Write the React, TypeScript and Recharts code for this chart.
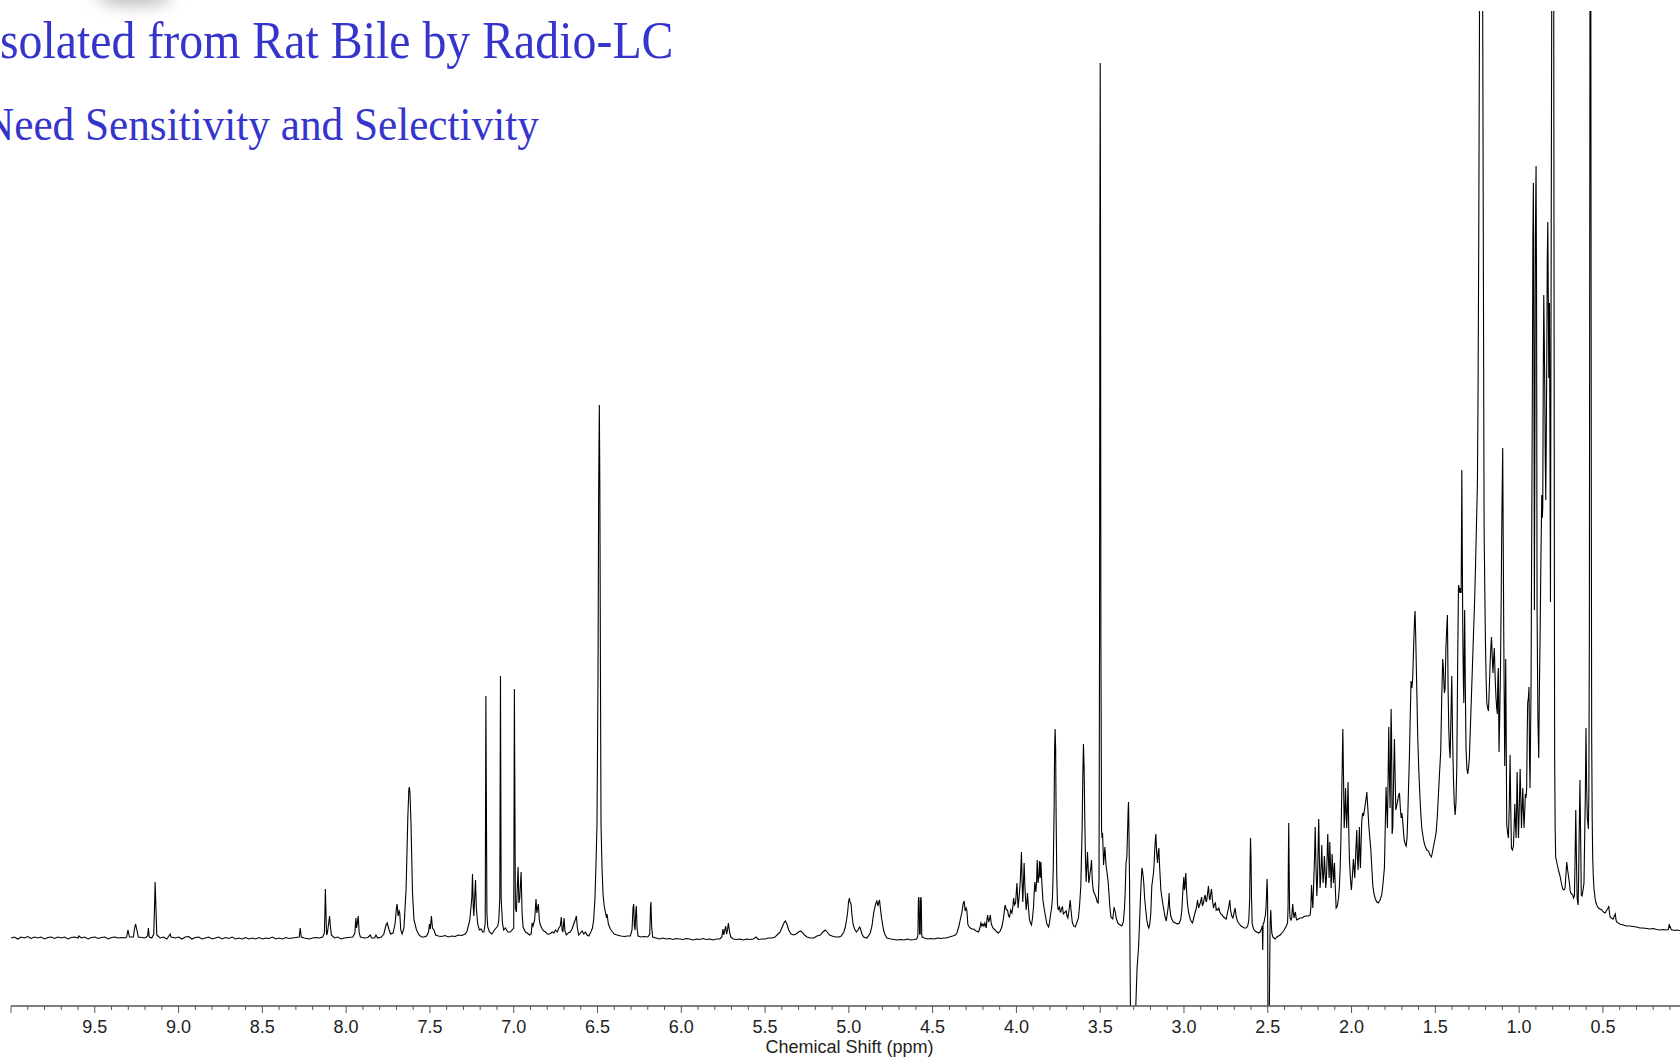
import { LineChart, Line, XAxis, YAxis } from 'recharts';

// 1H NMR trace, [chemical shift (ppm), intensity above baseline]
const lowFieldBaseline: [number, number][] = [
  [10.0, 0], [9.98, 1], [9.96, -1], [9.94, 1], [9.92, 0], [9.9, 1.5], [9.88, -0.5], [9.86, 1],
  [9.84, 0], [9.82, 1], [9.8, -1], [9.78, 0.5], [9.76, 1], [9.74, -0.5], [9.72, 1], [9.7, 0],
  [9.68, 1], [9.66, -1], [9.64, 0.5], [9.62, 1], [9.6, 0], [9.595, 2], [9.58, 0], [9.56, 1],
  [9.54, -1], [9.52, 0.5], [9.5, 1], [9.48, -0.5], [9.46, 0.5], [9.44, 1], [9.42, -1], [9.4, 0.5],
  [9.38, 1], [9.36, 0], [9.34, 0.5], [9.32, 0],
];

const aromaticRegion: [number, number][] = [
  [9.31, 1], [9.302, 8], [9.293, 1], [9.27, 1], [9.262, 10], [9.257, 14], [9.25, 9], [9.24, 1],
  [9.2, 0], [9.185, 2], [9.18, 10], [9.175, 1], [9.16, 0], [9.148, 4], [9.142, 40], [9.14, 56],
  [9.137, 40], [9.13, 3], [9.11, 0], [9.09, 1], [9.07, -1], [9.05, 4], [9.045, 1], [9.02, 0],
  [9.0, 1], [8.98, -1], [8.96, 1], [8.94, 1.5], [8.92, -1], [8.9, 0.5], [8.88, 1], [8.86, -1],
  [8.84, 0], [8.82, 1], [8.8, -1], [8.78, 0], [8.76, 1], [8.74, -1], [8.72, 0.5], [8.7, -0.5],
  [8.68, 1], [8.66, -1], [8.64, 0], [8.62, -1], [8.6, 0.5], [8.58, -1], [8.56, 0], [8.54, -1],
  [8.52, 0.5], [8.5, -1], [8.48, 0], [8.46, -0.5], [8.44, 1], [8.42, -1], [8.4, 0], [8.38, -1],
  [8.36, 0.5], [8.34, -0.5], [8.32, 0], [8.3, 0.5], [8.28, 1], [8.274, 10], [8.268, 1], [8.25, 0],
  [8.22, -1], [8.2, 0], [8.18, 0.5], [8.16, 0], [8.14, 1], [8.13, 5], [8.126, 30], [8.124, 49],
  [8.121, 30], [8.117, 3], [8.112, 5], [8.104, 15], [8.099, 22], [8.094, 12], [8.088, 3], [8.07, 0],
  [8.05, 1], [8.03, -1], [8.01, 0], [7.99, 0.5], [7.96, 1], [7.948, 5], [7.942, 20], [7.938, 10],
  [7.934, 14], [7.928, 22], [7.922, 5], [7.915, 1], [7.89, 0], [7.87, 0.5], [7.856, 3], [7.848, 0],
  [7.83, 0], [7.822, 3], [7.812, 0], [7.79, 1], [7.775, 4], [7.762, 13], [7.755, 15], [7.745, 9],
  [7.735, 4], [7.72, 5], [7.708, 14], [7.7, 30], [7.696, 34], [7.69, 22], [7.684, 27], [7.68, 25],
  [7.674, 8], [7.666, 4], [7.655, 10], [7.642, 50], [7.632, 120], [7.626, 148], [7.623, 151],
  [7.619, 145], [7.613, 115], [7.604, 45], [7.595, 18], [7.58, 8], [7.565, 3], [7.55, 1],
  [7.535, 1], [7.52, 2], [7.508, 6], [7.503, 14], [7.498, 9], [7.491, 22], [7.485, 10], [7.476, 8],
  [7.466, 3], [7.45, 2], [7.43, 1.5], [7.41, 2.5], [7.39, 1], [7.37, 2], [7.35, 1.5], [7.33, 3],
  [7.31, 2.5], [7.29, 4], [7.278, 7], [7.262, 18], [7.25, 40], [7.246, 64], [7.241, 30],
  [7.238, 22], [7.233, 40], [7.228, 58], [7.223, 30], [7.215, 14], [7.205, 8], [7.195, 9],
  [7.185, 6], [7.178, 6], [7.17, 15], [7.166, 242], [7.16, 25], [7.155, 11], [7.145, 6],
  [7.13, 4], [7.115, 8], [7.105, 10], [7.095, 12], [7.089, 18], [7.083, 40], [7.079, 262],
  [7.075, 40], [7.067, 15], [7.06, 8], [7.05, 10], [7.035, 6], [7.02, 6], [7.0, 10], [6.996, 249],
  [6.99, 30], [6.984, 26], [6.974, 71], [6.969, 35], [6.964, 40], [6.956, 66], [6.95, 25],
  [6.944, 11], [6.93, 6], [6.92, 5], [6.905, 3], [6.896, 4], [6.89, 15], [6.885, 12], [6.875, 18],
  [6.867, 39], [6.862, 25], [6.853, 34], [6.847, 18], [6.841, 13], [6.83, 9], [6.82, 7], [6.81, 6],
  [6.8, 4], [6.785, 4], [6.77, 6], [6.76, 5], [6.751, 8], [6.74, 6], [6.731, 10], [6.722, 12],
  [6.716, 21], [6.711, 8], [6.706, 6], [6.7, 20], [6.694, 7], [6.686, 3], [6.675, 5], [6.662, 6],
  [6.652, 9], [6.642, 14], [6.633, 18], [6.626, 22], [6.62, 10], [6.612, 3], [6.602, 5],
  [6.592, 7], [6.582, 4], [6.572, 6], [6.562, 3], [6.552, 2], [6.54, 6], [6.53, 10], [6.523, 18],
  [6.515, 40], [6.508, 80], [6.503, 114], [6.497, 260], [6.493, 450], [6.489, 533], [6.486, 450],
  [6.482, 250], [6.479, 114], [6.473, 70], [6.467, 44], [6.46, 32], [6.453, 26], [6.446, 20],
  [6.443, 24], [6.435, 14], [6.423, 9], [6.41, 6], [6.4, 4], [6.383, 3], [6.36, 2], [6.34, 1.5],
  [6.32, 2], [6.304, 2], [6.294, 8], [6.288, 30], [6.284, 34], [6.28, 12], [6.276, 8], [6.271, 28],
  [6.268, 32], [6.264, 10], [6.258, 2], [6.24, 1], [6.22, 1.5], [6.2, 1], [6.188, 4], [6.184, 30],
  [6.181, 36], [6.177, 12], [6.171, 1], [6.15, 0],
];

const olefinicRegion: [number, number][] = [
  [6.13, -1], [6.11, 0], [6.09, -1], [6.07, -0.5], [6.05, -1.5], [6.03, -0.5], [6.01, -1],
  [5.99, -1.5], [5.97, -0.5], [5.95, -1], [5.93, -2], [5.91, -1], [5.89, -1.5], [5.87, -0.5],
  [5.85, -1.5], [5.83, -1], [5.81, -2], [5.79, -1], [5.77, -1], [5.758, 1], [5.751, 9], [5.746, 3],
  [5.743, 6], [5.735, 12], [5.73, 4], [5.725, 7], [5.719, 15], [5.712, 6], [5.705, 1], [5.69, -1],
  [5.67, -1.5], [5.65, -1], [5.63, -2], [5.61, -1], [5.59, -1.5], [5.57, -1], [5.554, 1],
  [5.54, -1.5], [5.52, -1], [5.5, -1], [5.48, 0], [5.46, 0], [5.44, 1], [5.429, 3], [5.41, 6],
  [5.395, 12], [5.385, 16], [5.379, 17], [5.37, 14], [5.359, 8], [5.345, 4], [5.33, 3], [5.315, 4],
  [5.3, 6], [5.29, 7], [5.28, 6], [5.265, 3], [5.25, 1], [5.23, 0], [5.21, 0], [5.19, 2], [5.17, 3],
  [5.155, 6], [5.141, 8], [5.13, 6], [5.115, 3], [5.1, 2], [5.08, 1], [5.06, 1], [5.045, 2],
  [5.03, 6], [5.021, 11], [5.012, 20], [5.007, 26], [5.002, 36], [4.997, 40], [4.993, 36],
  [4.987, 34], [4.982, 24], [4.975, 14], [4.966, 9], [4.955, 6], [4.945, 8], [4.936, 11],
  [4.932, 10], [4.922, 4], [4.912, 1], [4.892, 0], [4.872, 5], [4.862, 12], [4.852, 25],
  [4.84, 34], [4.833, 37], [4.826, 32], [4.821, 36], [4.817, 38], [4.812, 30], [4.805, 20],
  [4.793, 8], [4.783, 3], [4.773, 0], [4.75, -1], [4.73, -1.5], [4.71, -2], [4.69, -1.5],
  [4.67, -2], [4.65, -1], [4.63, -2], [4.61, -1.5], [4.595, -1], [4.588, 2], [4.585, 38],
  [4.583, 41], [4.581, 38], [4.578, 4], [4.574, 4], [4.572, 38], [4.57, 41], [4.568, 38],
  [4.565, 3], [4.562, 1], [4.55, 0], [4.53, -1], [4.51, -0.5], [4.49, -1], [4.47, 0],
  [4.45, -0.5], [4.435, 0], [4.42, 0], [4.4, 1], [4.38, 2], [4.365, 3],
];

const midRegion: [number, number][] = [
  [4.355, 5], [4.343, 12], [4.333, 20], [4.325, 26], [4.318, 34], [4.312, 37], [4.306, 27],
  [4.3, 30], [4.296, 28], [4.29, 14], [4.286, 12], [4.275, 10], [4.265, 9], [4.256, 9], [4.24, 7],
  [4.226, 6], [4.218, 10], [4.212, 15], [4.206, 12], [4.2, 14], [4.194, 12], [4.188, 15],
  [4.18, 10], [4.176, 18], [4.172, 23], [4.166, 16], [4.162, 18], [4.156, 23], [4.15, 14],
  [4.14, 10], [4.127, 8], [4.117, 6], [4.107, 5], [4.097, 7], [4.087, 11], [4.077, 20], [4.07, 30],
  [4.067, 33], [4.06, 28], [4.053, 28], [4.047, 22], [4.041, 21], [4.034, 28], [4.027, 25],
  [4.022, 30], [4.017, 40], [4.011, 33], [4.005, 35], [3.997, 55], [3.99, 30], [3.982, 45],
  [3.976, 60], [3.97, 86], [3.966, 55], [3.962, 36], [3.958, 55], [3.954, 75], [3.949, 50],
  [3.942, 28], [3.938, 35], [3.934, 45], [3.928, 30], [3.922, 18], [3.916, 15], [3.91, 13],
  [3.904, 20], [3.898, 31], [3.894, 45], [3.89, 56], [3.884, 46], [3.88, 55], [3.876, 78],
  [3.871, 55], [3.866, 62], [3.862, 77], [3.858, 60], [3.854, 76], [3.848, 55], [3.842, 38],
  [3.835, 30], [3.828, 23], [3.818, 14], [3.808, 11], [3.802, 16], [3.795, 25], [3.79, 30],
  [3.785, 40], [3.78, 70], [3.775, 130], [3.772, 190], [3.769, 209], [3.766, 190], [3.763, 120],
  [3.759, 60], [3.755, 34], [3.751, 28], [3.747, 30], [3.743, 31], [3.739, 26], [3.735, 26],
  [3.73, 30], [3.725, 31], [3.72, 24], [3.715, 25], [3.709, 26], [3.703, 27], [3.698, 22],
  [3.693, 20], [3.686, 28], [3.679, 38], [3.674, 28], [3.667, 16], [3.658, 12], [3.649, 11],
  [3.64, 15], [3.63, 20], [3.623, 33], [3.616, 51], [3.612, 80], [3.608, 108], [3.604, 160],
  [3.6, 194], [3.596, 170], [3.592, 118], [3.588, 80], [3.584, 56], [3.58, 70], [3.576, 86],
  [3.572, 70], [3.568, 55], [3.564, 60], [3.56, 66], [3.556, 70], [3.552, 78], [3.548, 60],
  [3.544, 51], [3.54, 47], [3.536, 45], [3.53, 43], [3.524, 40], [3.518, 36], [3.512, 35],
  [3.507, 60], [3.504, 300], [3.502, 700], [3.5, 875], [3.498, 700], [3.496, 300], [3.492, 108],
  [3.489, 100], [3.486, 105], [3.483, 90], [3.48, 73], [3.476, 82], [3.472, 91], [3.468, 80],
  [3.464, 71], [3.46, 66], [3.456, 61], [3.452, 55], [3.448, 45], [3.442, 30], [3.436, 21],
  [3.43, 20], [3.425, 19], [3.421, 25], [3.417, 31], [3.413, 28], [3.409, 25], [3.405, 20],
  [3.401, 18], [3.395, 15], [3.389, 14], [3.38, 13], [3.371, 12], [3.362, 16], [3.355, 30],
  [3.351, 45], [3.346, 75], [3.341, 81], [3.337, 105], [3.333, 130], [3.331, 136], [3.328, 100],
  [3.325, 58], [3.322, -20], [3.319, -80], [3.29, -80], [3.288, -70], [3.28, -30], [3.271, -9],
  [3.266, 12], [3.262, 31], [3.256, 55], [3.251, 70], [3.248, 68], [3.244, 62], [3.24, 55],
  [3.235, 40], [3.228, 28], [3.222, 18], [3.215, 12], [3.21, 10], [3.204, 14], [3.198, 25],
  [3.192, 52], [3.186, 60], [3.182, 65], [3.178, 75], [3.174, 90], [3.17, 100], [3.168, 104],
  [3.163, 85], [3.158, 75], [3.154, 85], [3.15, 90], [3.145, 70], [3.138, 48], [3.13, 38],
  [3.122, 30], [3.114, 22], [3.106, 17], [3.1, 24], [3.095, 30], [3.091, 38], [3.089, 45],
  [3.086, 32], [3.079, 22], [3.07, 18], [3.063, 16], [3.05, 15], [3.039, 14], [3.028, 15],
  [3.019, 19], [3.013, 28], [3.009, 40], [3.005, 52], [3.001, 61], [2.998, 48], [2.995, 50],
  [2.992, 58], [2.989, 65], [2.985, 48], [2.979, 34], [2.972, 25], [2.963, 19], [2.955, 16],
  [2.949, 15], [2.942, 20], [2.933, 26], [2.926, 30], [2.919, 38], [2.913, 30], [2.907, 33],
  [2.901, 36], [2.895, 41], [2.89, 32], [2.884, 35], [2.879, 40], [2.874, 43], [2.868, 36],
  [2.864, 38], [2.859, 45], [2.854, 52], [2.849, 40], [2.845, 38], [2.84, 45], [2.836, 49],
  [2.83, 38], [2.824, 30], [2.818, 34], [2.812, 35], [2.808, 28], [2.804, 29], [2.798, 28],
  [2.792, 30], [2.786, 26], [2.78, 24], [2.772, 23], [2.764, 21], [2.756, 20], [2.748, 19],
  [2.742, 24], [2.737, 28], [2.732, 32], [2.727, 38], [2.722, 28], [2.715, 22], [2.708, 20],
  [2.701, 25], [2.695, 30], [2.689, 22], [2.681, 17], [2.67, 14], [2.66, 12], [2.65, 11],
  [2.64, 10], [2.629, 10],
];

const aliphaticRegion: [number, number][] = [
  [2.62, 12], [2.613, 18], [2.608, 40], [2.605, 80], [2.603, 100], [2.6, 80], [2.597, 40],
  [2.593, 14], [2.585, 9], [2.575, 7], [2.566, 6], [2.556, 5], [2.546, 6], [2.538, 9], [2.533, 12],
  [2.53, -12], [2.528, 14], [2.522, 16], [2.518, 20], [2.514, 23], [2.51, 32], [2.507, 45],
  [2.504, 59], [2.501, 40], [2.499, -80], [2.491, -80], [2.489, -40], [2.486, 15], [2.482, 28],
  [2.479, 14], [2.476, 5], [2.47, 1], [2.463, 0], [2.456, -1], [2.446, 1], [2.436, 2], [2.426, 3],
  [2.416, 5], [2.406, 7], [2.396, 10], [2.389, 12], [2.382, 15], [2.379, 30], [2.377, 80],
  [2.375, 115], [2.373, 80], [2.37, 30], [2.367, 20], [2.362, 18], [2.357, 20], [2.354, 28],
  [2.351, 34], [2.347, 25], [2.343, 20], [2.339, 24], [2.335, 26], [2.331, 20], [2.327, 18],
  [2.317, 19], [2.307, 20], [2.297, 20], [2.287, 21], [2.277, 22], [2.267, 22], [2.257, 22],
  [2.247, 23], [2.243, 30], [2.239, 53], [2.235, 40], [2.231, 30], [2.226, 55], [2.221, 80],
  [2.217, 111], [2.212, 70], [2.207, 42], [2.203, 60], [2.199, 95], [2.196, 119], [2.192, 80],
  [2.188, 50], [2.184, 60], [2.18, 80], [2.178, 93], [2.174, 70], [2.17, 55], [2.166, 65],
  [2.162, 82], [2.158, 66], [2.154, 50], [2.15, 60], [2.146, 80], [2.142, 104], [2.138, 80],
  [2.134, 60], [2.131, 80], [2.13, 96], [2.126, 75], [2.122, 50], [2.119, 65], [2.116, 84],
  [2.112, 70], [2.108, 55], [2.105, 65], [2.102, 75], [2.097, 50], [2.092, 30], [2.085, 32],
  [2.078, 40], [2.073, 50], [2.068, 70], [2.064, 95], [2.06, 130], [2.056, 170], [2.052, 209],
  [2.048, 160], [2.044, 110], [2.04, 125], [2.036, 150], [2.032, 125], [2.029, 110], [2.025, 130],
  [2.021, 156], [2.017, 110], [2.013, 80], [2.007, 60], [2.001, 48], [1.995, 62], [1.989, 79],
  [1.985, 70], [1.981, 60], [1.975, 85], [1.969, 108], [1.965, 80], [1.961, 68], [1.957, 90],
  [1.953, 111], [1.95, 80], [1.947, 70], [1.943, 95], [1.939, 117], [1.934, 125], [1.929, 122],
  [1.923, 128], [1.917, 135], [1.913, 140], [1.909, 146], [1.903, 130], [1.897, 112], [1.891, 100],
  [1.885, 88], [1.879, 70], [1.873, 52], [1.866, 44], [1.858, 39], [1.849, 36], [1.84, 35],
  [1.83, 38], [1.82, 43], [1.812, 55], [1.804, 70], [1.799, 110], [1.794, 151], [1.79, 130],
  [1.786, 110], [1.782, 160], [1.778, 211], [1.774, 160], [1.77, 130], [1.766, 200], [1.764, 229],
  [1.761, 200], [1.758, 104], [1.754, 110], [1.748, 170], [1.744, 199], [1.74, 160], [1.736, 128],
  [1.731, 132], [1.726, 136], [1.72, 142], [1.714, 145], [1.709, 130], [1.704, 120], [1.7, 125],
  [1.696, 120], [1.691, 108], [1.686, 98], [1.68, 94], [1.674, 92], [1.669, 100], [1.665, 120],
  [1.66, 150], [1.655, 180], [1.65, 220], [1.645, 257], [1.64, 250], [1.635, 260], [1.628, 300],
  [1.624, 320], [1.621, 327], [1.617, 300], [1.611, 250], [1.605, 200], [1.599, 169], [1.593, 145],
  [1.587, 125], [1.581, 110], [1.575, 103], [1.568, 96], [1.561, 92], [1.551, 88], [1.541, 87],
  [1.532, 83], [1.523, 81], [1.515, 88], [1.507, 95],
];

const methylRegion: [number, number][] = [
  [1.501, 100], [1.495, 106], [1.488, 122], [1.482, 142], [1.475, 165], [1.468, 186], [1.462, 240],
  [1.456, 279], [1.452, 270], [1.449, 255], [1.446, 245], [1.442, 249], [1.437, 290], [1.432, 310],
  [1.428, 323], [1.424, 250], [1.42, 210], [1.416, 190], [1.412, 180], [1.407, 220], [1.402, 262],
  [1.397, 200], [1.392, 160], [1.387, 135], [1.382, 123], [1.377, 135], [1.372, 170], [1.367, 270],
  [1.362, 353], [1.358, 350], [1.354, 345], [1.35, 350], [1.346, 345], [1.344, 400], [1.342, 468],
  [1.339, 380], [1.336, 300], [1.333, 260], [1.33, 235], [1.327, 300], [1.325, 328], [1.321, 250],
  [1.317, 190], [1.312, 170], [1.307, 164], [1.302, 170], [1.297, 180], [1.291, 210], [1.285, 240],
  [1.279, 270], [1.273, 301], [1.267, 330], [1.261, 366], [1.255, 410], [1.249, 454], [1.245, 550],
  [1.241, 700], [1.237, 900], [1.233, 1200], [1.227, 1500], [1.222, 1200], [1.217, 900],
  [1.213, 650], [1.209, 410], [1.205, 350], [1.201, 295], [1.197, 260], [1.193, 235], [1.188, 230],
  [1.183, 227], [1.178, 250], [1.173, 275], [1.169, 290], [1.165, 301], [1.16, 280], [1.156, 265],
  [1.152, 280], [1.148, 290], [1.143, 260], [1.138, 240], [1.134, 230], [1.13, 224], [1.127, 260],
  [1.124, 270], [1.122, 230], [1.12, 186], [1.116, 220], [1.112, 260], [1.11, 290], [1.107, 340],
  [1.104, 405], [1.101, 450], [1.098, 490], [1.095, 400], [1.092, 310], [1.089, 240], [1.086, 172],
  [1.083, 220], [1.08, 279], [1.077, 200], [1.074, 114], [1.069, 105], [1.064, 100], [1.059, 130],
  [1.054, 183], [1.05, 130], [1.046, 90], [1.04, 88], [1.034, 92], [1.03, 110], [1.026, 134],
  [1.022, 115], [1.018, 100], [1.015, 130], [1.012, 166], [1.008, 130], [1.004, 100], [0.999, 130],
  [0.994, 169], [0.99, 140], [0.986, 110], [0.982, 130], [0.978, 150], [0.975, 130], [0.971, 110],
  [0.967, 125], [0.963, 144], [0.959, 140], [0.955, 150], [0.952, 200], [0.949, 235], [0.945, 240],
  [0.941, 251], [0.938, 180], [0.935, 150], [0.932, 200], [0.929, 250], [0.925, 400], [0.921, 550],
  [0.918, 700], [0.915, 755], [0.912, 600], [0.909, 328], [0.906, 500], [0.903, 700], [0.899, 772],
  [0.896, 650], [0.893, 330], [0.888, 220], [0.883, 180], [0.879, 250], [0.875, 300], [0.87, 380],
  [0.865, 443], [0.862, 420], [0.859, 430], [0.856, 560], [0.853, 643], [0.85, 600], [0.847, 550],
  [0.844, 480], [0.841, 438], [0.838, 500], [0.835, 580], [0.832, 680], [0.829, 716], [0.826, 640],
  [0.823, 560], [0.821, 600], [0.819, 635], [0.816, 500], [0.813, 336], [0.81, 600], [0.806, 900],
  [0.802, 1200], [0.798, 1400], [0.795, 1200], [0.792, 700], [0.79, 400], [0.788, 180],
  [0.785, 110], [0.782, 81], [0.777, 77], [0.772, 73], [0.764, 67], [0.756, 62], [0.748, 55],
  [0.74, 49], [0.733, 48], [0.726, 50], [0.72, 65], [0.716, 76], [0.712, 70], [0.708, 65],
  [0.704, 60], [0.7, 55], [0.696, 48], [0.692, 45], [0.686, 44], [0.68, 43], [0.675, 40],
  [0.67, 42], [0.666, 80], [0.662, 128], [0.658, 80], [0.654, 40], [0.65, 35], [0.648, 33],
  [0.645, 60], [0.642, 100], [0.637, 158], [0.633, 100], [0.629, 43], [0.625, 42], [0.621, 45],
  [0.617, 50], [0.613, 55], [0.609, 100], [0.605, 142], [0.601, 210], [0.597, 150], [0.593, 120],
  [0.59, 115], [0.587, 109], [0.584, 140], [0.581, 300], [0.578, 800], [0.575, 1350], [0.572, 900],
  [0.569, 400], [0.567, 200], [0.564, 120], [0.561, 80], [0.557, 60], [0.553, 49], [0.547, 40],
  [0.541, 35], [0.534, 32], [0.527, 30], [0.517, 29], [0.507, 28], [0.497, 26], [0.487, 25],
  [0.48, 27], [0.473, 29], [0.469, 30], [0.465, 32], [0.461, 25], [0.457, 21], [0.45, 20],
  [0.442, 19], [0.438, 19], [0.432, 22], [0.426, 24], [0.422, 18], [0.418, 16], [0.4, 14],
  [0.378, 13], [0.36, 12], [0.34, 12], [0.32, 11.5], [0.3, 11], [0.279, 10], [0.26, 10],
  [0.24, 9.5], [0.22, 9], [0.2, 9.5], [0.179, 8.5], [0.16, 8], [0.14, 8.5], [0.12, 8], [0.11, 8.5],
  [0.106, 12], [0.104, 14], [0.101, 10], [0.098, 12], [0.094, 9], [0.09, 8], [0.08, 8], [0.07, 7.5],
  [0.06, 8], [0.04, 7.5],
];

// labelled shifts every 0.5 ppm
const majorTicks = [10, 9.5, 9, 8.5, 8, 7.5, 7, 6.5, 6, 5.5, 5, 4.5, 4, 3.5, 3, 2.5, 2, 1.5, 1, 0.5];

const spectrum = [
  ...lowFieldBaseline,
  ...aromaticRegion,
  ...olefinicRegion,
  ...midRegion,
  ...aliphaticRegion,
  ...methylRegion,
].map(([ppm, intensity]) => ({ ppm, intensity }));

// minor ticks at 0.1 ppm between the labelled ones
const allTicks = majorTicks.flatMap((m) =>
  [0, 0.1, 0.2, 0.3, 0.4].map((d) => Math.round((m - d) * 10) / 10)
).filter((v) => v > 0.05);

const AXIS_GREY = '#555';
const SERIF = "'Liberation Serif', 'Times New Roman', serif";

function PpmTick(props: any) {
  const { x, y, payload } = props;
  const v: number = payload.value;
  const major = Math.abs(v * 2 - Math.round(v * 2)) < 1e-6;
  return (
    <g>
      <line x1={x} x2={x} y1={y} y2={y + (major ? 7 : 4)} stroke={AXIS_GREY} strokeWidth={1} />
      {major && v < 9.99 && (
        <text
          x={x}
          y={y + 27}
          textAnchor="middle"
          fontFamily="'Liberation Sans', Arial, sans-serif"
          fontSize={18}
          fill="#222"
        >
          {v.toFixed(1)}
        </text>
      )}
    </g>
  );
}

function AxisTitle(props: any) {
  const { viewBox } = props;
  return (
    <text
      x={viewBox.x + viewBox.width / 2 + 4}
      y={viewBox.y + viewBox.height - 6}
      textAnchor="middle"
      fontFamily="'Liberation Sans', Arial, sans-serif"
      fontSize={18}
      fill="#222"
    >
      Chemical Shift (ppm)
    </text>
  );
}

export default function App() {
  return (
    <div style={{ position: 'fixed', left: 0, top: 0, width: 1680, height: 1059, background: '#fff', overflow: 'hidden' }}>
      <LineChart width={1680} height={1059} data={spectrum} margin={{ top: 11, right: 0, bottom: 0, left: 11 }}>
        <XAxis
          dataKey="ppm"
          type="number"
          domain={[0.04, 10]}
          reversed
          allowDataOverflow
          ticks={allTicks}
          interval={0}
          tick={<PpmTick />}
          tickLine={false}
          tickSize={0}
          tickMargin={0}
          height={53}
          axisLine={{ stroke: AXIS_GREY, strokeWidth: 1.3 }}
          label={{ content: <AxisTitle /> }}
        />
        <YAxis type="number" domain={[-68, 927]} allowDataOverflow hide />
        <Line
          type="linear"
          dataKey="intensity"
          stroke="#000"
          strokeWidth={1.1}
          dot={false}
          activeDot={false}
          isAnimationActive={false}
        />
      </LineChart>
      <svg width={1680} height={160} style={{ position: 'absolute', left: 0, top: 0, pointerEvents: 'none' }}>
        <defs>
          <filter id="smudge" x="-50%" y="-100%" width="200%" height="300%">
            <feGaussianBlur stdDeviation="7" />
          </filter>
        </defs>
        <ellipse cx={134} cy={-2} rx={38} ry={9} fill="#c4c4c4" filter="url(#smudge)" />
        {/* slide titles, slightly condensed serif */}
        <text transform="translate(0 58) scale(0.92 1)" fontFamily={SERIF} fontSize={52} fill="#3535CC">
          solated from Rat Bile by Radio-LC
        </text>
        <text transform="translate(-17 140) scale(0.94 1)" fontFamily={SERIF} fontSize={46} fill="#3535CC">
          Need Sensitivity and Selectivity
        </text>
      </svg>
    </div>
  );
}
